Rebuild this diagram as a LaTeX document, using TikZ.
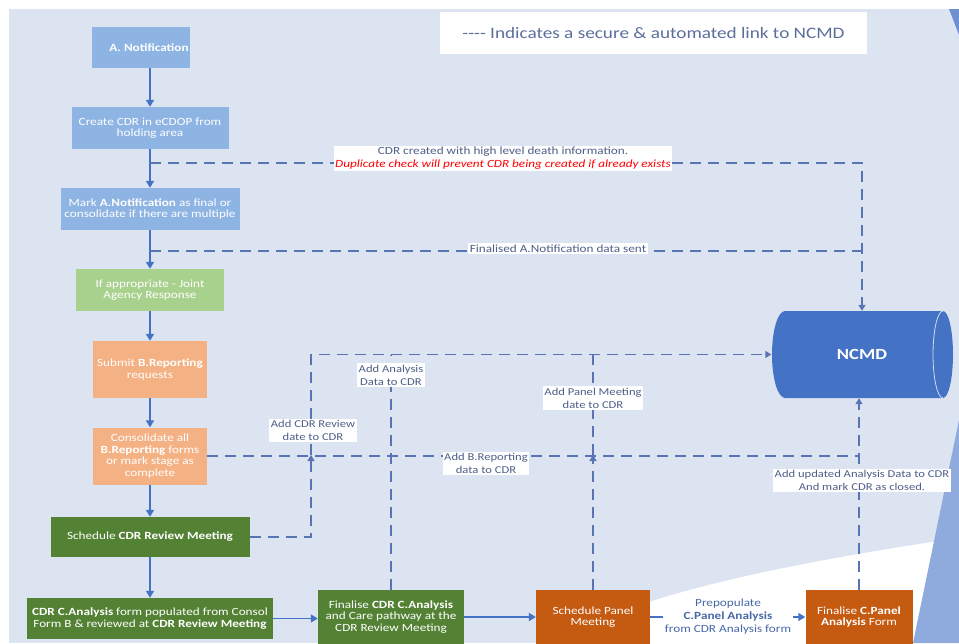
\documentclass[tikz,border=0pt]{standalone}
\usepackage{fontspec}
\setmainfont{Carlito}[FakeStretch=1.2]
\usetikzlibrary{arrows.meta,shapes.geometric}
\definecolor{bgc}{HTML}{DDE4F1}
\definecolor{lblue}{HTML}{8EB4E3}
\definecolor{lgreen}{HTML}{A9D18E}
\definecolor{lorange}{HTML}{F4B183}
\definecolor{dgreen}{HTML}{548235}
\definecolor{dorange}{HTML}{C55A11}
\definecolor{ncmdc}{HTML}{4472C4}
\definecolor{arrc}{HTML}{4472C4}
\definecolor{dashc}{HTML}{5874B4}
\definecolor{lblc}{HTML}{4E5F88}
\definecolor{legc}{HTML}{5C6F9C}
\definecolor{prepc}{HTML}{4868A8}
\definecolor{tric}{HTML}{8FAADC}
\definecolor{tritop}{HTML}{6F8FD0}
\begin{document}
\begin{tikzpicture}[x=1pt,y=-1pt,
  box/.style={rectangle, inner sep=1pt, align=center, text=white, font=\fontsize{11}{11.5}\selectfont},
  arr/.style={draw=arrc, line width=1.6pt, -{Triangle[length=7pt,width=8pt]}},
  dl/.style={draw=dashc, line width=1.3pt, dash pattern=on 11pt off 7pt},
  dtip/.style={-{Triangle[length=6pt,width=7pt]}},
  lbl/.style={fill=white, text=lblc, align=center, inner sep=1.5pt, font=\fontsize{10.5}{13}\selectfont}]
\useasboundingbox (0,0) rectangle (959,643);
% background
\fill[white] (0,0) rectangle (959,643);
\fill[bgc] (9,9) rectangle (959,643);
\fill[white] (560,643) .. controls (610,605) and (740,570) .. (959,538) -- (959,643) -- cycle;
\fill[tric] (959,420) -- (913,643) -- (959,643) -- cycle;
\fill[tritop] (949,9) -- (959,9) -- (959,35) -- cycle;
% legend
\node[fill=white, minimum width=427pt, minimum height=42pt, text=legc, font=\fontsize{16}{18}\selectfont] (legend) at (653.5,33) {{-}{-}{-}{-} Indicates a secure \& automated link to NCMD};
% NCMD cylinder drawing
\fill[ncmdc] (785,311) -- (943,311)
  .. controls (948.5,311) and (953,330.5) .. (953,354.5)
  .. controls (953,378.5) and (948.5,398) .. (943,398)
  -- (785,398)
  .. controls (777.8,398) and (772,378.5) .. (772,354.5)
  .. controls (772,330.5) and (777.8,311) .. (785,311) -- cycle;
\draw[white!75!ncmdc, line width=0.8pt] (943,311)
  .. controls (937.5,311) and (933,330.5) .. (933,354.5)
  .. controls (933,378.5) and (937.5,398) .. (943,398);
\node[minimum width=181pt, minimum height=87pt, inner sep=0pt, text=white, font=\fontsize{15.5}{17}\selectfont\bfseries] (ncmd) at (862,354.5) {NCMD};
% boxes
\node[box, fill=lblue, minimum width=96pt, minimum height=41pt] (nA) at (141,47.5) {\hspace*{16pt}\textbf{A. Notification}};
\node[box, fill=lblue, minimum width=157pt, minimum height=42pt] (nCreate) at (150,128) {Create CDR in eCDOP from\\holding area};
\node[box, fill=lblue, minimum width=179pt, minimum height=42pt] (nMark) at (150,209) {Mark \textbf{A.Notification} as final or\\consolidate if there are multiple};
\node[box, fill=lgreen, minimum width=148pt, minimum height=42pt] (nJoint) at (150,290) {If appropriate - Joint\\Agency Response};
\node[box, fill=lorange, minimum width=114pt, minimum height=57pt] (nSubmit) at (150,369.5) {Submit \textbf{B.Reporting}\\requests};
\node[box, fill=lorange, minimum width=114pt, minimum height=57pt] (nCons) at (150,456) {Consolidate all\\\textbf{B.Reporting} forms\\or mark stage as\\complete};
\node[box, fill=dgreen, minimum width=199pt, minimum height=40pt] (nSched) at (150,537) {Schedule \textbf{CDR Review Meeting}};
\node[box, fill=dgreen, minimum width=246pt, minimum height=41pt] (nCDRA) at (150,618.5) {\textbf{CDR C.Analysis} form populated from Consol\\Form B \& reviewed at \textbf{CDR Review Meeting}};
\node[box, fill=dgreen, minimum width=146pt, minimum height=54pt] (nFinCDR) at (391,617) {Finalise \textbf{CDR C.Analysis}\\and Care pathway at the\\CDR Review Meeting};
\node[box, fill=dorange, minimum width=114pt, minimum height=54pt] (nSchedP) at (593,617) {Schedule Panel\\Meeting};
\node[box, fill=dorange, minimum width=107pt, minimum height=54pt] (nFinP) at (859,617) {Finalise \textbf{C.Panel}\\\textbf{Analysis} Form};
% solid arrows
\draw[arr] (nA.south -| nCreate.north) -- (nCreate.north);
\draw[arr] (nCreate.south) -- (nMark.north);
\draw[arr] (nMark.south) -- (nJoint.north);
\draw[arr] (nJoint.south) -- (nSubmit.north);
\draw[arr] (nSubmit.south) -- (nCons.north);
\draw[arr] (nCons.south) -- (nSched.north);
\draw[arr] (nSched.south) -- (nCDRA.north);
\draw[arr] (nCDRA.east) -- (nCDRA.east -| nFinCDR.west);
\draw[arr] (nFinCDR.east) -- (nSchedP.west);
\draw[arr] (nSchedP.east) -- (nFinP.west);
% dashed links
\coordinate (d1) at (150,163);
\coordinate (c1) at (862,163);
\draw[dl, dtip] (d1) -- (c1) -- (ncmd.north);
\coordinate (d2) at (150,251);
\draw[dl] (d2) -- (d2 -| c1);
\coordinate (c3b) at (311,455);
\draw[dl, dtip] (nSched.east) -| (c3b);
\draw[dl, dtip] (c3b) |- (ncmd.west);
\draw[dl] (nFinCDR.north) -- (nFinCDR.north |- ncmd.west);
\draw[dl] (nCons.east) -- (nCons.east -| nFinP.north);
\coordinate (c6) at (593,455);
\draw[dl, dtip] (nSchedP.north) -- (c6);
\draw[dl] (c6) -- (c6 |- ncmd.west);
\draw[dl, dtip] (nFinP.north) -- (nFinP.north |- ncmd.south);
% labels
\node[lbl, inner sep=1pt, font=\fontsize{11}{13}\selectfont] (L1) at (503,158.5) {CDR created with high level death information.\\{\color{red}\itshape Duplicate check will prevent CDR being created if already exists}};
\node[lbl, font=\fontsize{11}{13}\selectfont] (L2) at (558,248.5) {Finalised A.Notification data sent};
\node[lbl] (L3) at (313,430.5) {Add CDR Review\\date to CDR};
\node[lbl] (L4) at (391,375) {Add Analysis\\Data to CDR};
\node[lbl] (L5) at (486,463.5) {Add B.Reporting\\data to CDR};
\node[lbl] (L6) at (593,398) {Add Panel Meeting\\date to CDR};
\node[lbl] (L7) at (862,480.5) {Add updated Analysis Data to CDR\\And mark CDR as closed.};
\node[lbl, text=prepc, font=\fontsize{11}{13}\selectfont] (L8) at (728,617) {Prepopulate\\\textbf{C.Panel Analysis}\\from CDR Analysis form};
\end{tikzpicture}
\end{document}
